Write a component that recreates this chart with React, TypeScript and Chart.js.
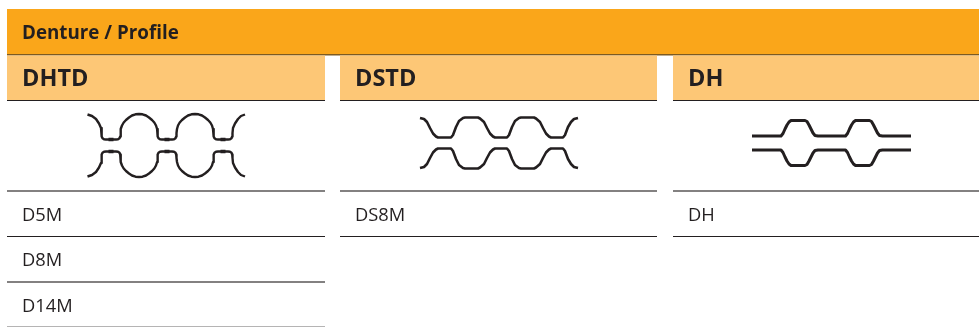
import React, { useEffect, useRef } from "react";
import { Chart, registerables } from "chart.js";

Chart.register(...registerables);

const WIDTH = 979;
const HEIGHT = 327;
const INK = "#231f20";

const title = "Denture / Profile";
const columnNames = ["DHTD", "DSTD", "DH"];
const columnStarts = [7, 340, 673];
const columnEnds = [325, 657, 979];
const columnRows = [["D5M", "D8M", "D14M"], ["DS8M"], ["DH"]];
const rowBaselineY = [221, 266, 312];
const rowRuleY = [191, 236.5, 282, 326.5];
const rowRuleColors = ["#5a5757", "#231f20", "#5a5757", "#b5b4b4"];
const rowRuleWidths = [1.3, 1, 1.3, 1];

const dhtdX = [87.5,92,96,99,101,
  101.5,101.8,102.5,104,106,108,114,116,118,119.5,120.2,
  120.5,120.9,122,123.7,126,129,132,135.5,139,142.5,146,149,152,154.3,156,157.1,
  157.5,157.8,158.5,160,162,164,170,172,174,175.5,176.2,
  176.5,177,178,179.7,182,185,188,191.5,195,198.5,202,205,208,210.3,212,213,
  213.5,213.8,214.5,216,218,220,226,228,230,231.5,232.2,
  232.5,233,235,238,241,245];
const dhtdUpperY = [114.5,116,119,123.5,128,
  133,136.5,138.3,139.3,139.5,139.5,139.5,139.5,139.3,138.3,136.5,
  133,129,125.5,122.5,120,117.5,115.5,114.3,114,114.3,115.5,117.5,120,122.5,125.5,129,
  133,136.5,138.3,139.3,139.5,139.5,139.5,139.5,139.3,138.3,136.5,
  133,129,125.5,122.5,120,117.5,115.5,114.3,114,114.3,115.5,117.5,120,122.5,125.5,129,
  133,136.5,138.3,139.3,139.5,139.5,139.5,139.5,139.3,138.3,136.5,
  133,128,123.5,119,116,114.5];
const dhtdLowerY = [176.5,175,172,167.5,163,
  158,154.5,152.7,151.7,151.5,151.5,151.5,151.5,151.7,152.7,154.5,
  158,162,165.5,168.5,171,173.5,175.5,176.7,177,176.7,175.5,173.5,171,168.5,165.5,162,
  158,154.5,152.7,151.7,151.5,151.5,151.5,151.5,151.7,152.7,154.5,
  158,162,165.5,168.5,171,173.5,175.5,176.7,177,176.7,175.5,173.5,171,168.5,165.5,162,
  158,154.5,152.7,151.7,151.5,151.5,151.5,151.5,151.7,152.7,154.5,
  158,163,167.5,172,175,176.5];

const dstdX = [420,424,427,430,433,436,438,440,449,451,453,456,459,463,465,467,474,476,478,480,484,487,490,493,495,497,505,507,509,512,515,519,521,523,530,532,534,536,540,543,546,549,551,553,561,563,565,568,571,574,578];
const dstdUpperY = [118,119,122,128,133.5,136.5,137.5,137.5,137.5,137.5,135,127,121,118,117.5,117.5,117.5,117.5,117.5,118.5,122,128,133.5,136.5,137.5,137.5,137.5,137.5,135,127,121,118,117.5,117.5,117.5,117.5,117.5,118.5,122,128,133.5,136.5,137.5,137.5,137.5,137.5,135,127,122,119,118];
const dstdLowerY = [168,167,164,158,152.5,149.5,148.5,148.5,148.5,148.5,151,159,165,168,168.5,168.5,168.5,168.5,168.5,167.5,164,158,152.5,149.5,148.5,148.5,148.5,148.5,151,159,165,168,168.5,168.5,168.5,168.5,168.5,167.5,164,158,152.5,149.5,148.5,148.5,148.5,148.5,151,159,164,167,168];

const dhX = [752,781,783,785,787,789,791,805,807,809,811,813,815,818,845.5,847.5,849.5,851.5,853.5,855.5,869.5,871.5,873.5,875.5,877.5,879.5,882.5,911];
const dhUpperY = [136,136,133.5,129,125,122,120.5,120.5,121.5,125,129,133,135.5,136,136,133.5,129,125,122,120.5,120.5,121.5,125,129,133,135.5,136,136];
const dhLowerY = [150,150,152.5,157,161,164,165.5,165.5,164.5,161,157,153,150.5,150,150,152.5,157,161,164,165.5,165.5,164.5,161,157,153,150.5,150,150];

const notchStarts = [108.5, 164.5, 220.5];
const notchEnds = [113.5, 169.5, 225.5];
const notchUpperY = 139.5;
const notchLowerY = 151.5;

const zip = (xs: number[], ys: number[]) => xs.map((x, i) => ({ x, y: ys[i] }));

const profile = (data: { x: number; y: number }[], tension: number, width = 2) => ({
  data,
  showLine: true,
  borderColor: INK,
  borderWidth: width,
  borderCapStyle: "butt" as const,
  borderJoinStyle: "round" as const,
  pointRadius: 0,
  tension,
  fill: false,
});

const notches = (y: number) =>
  notchStarts.flatMap((s, i) => [{ x: s, y }, { x: notchEnds[i], y }, { x: NaN, y: NaN }]);

const rules = (y: number, from: number, to: number, color: string, width = 1) => ({
  data: [{ x: from, y }, { x: to, y }],
  showLine: true,
  borderColor: color,
  borderWidth: width,
  pointRadius: 0,
  tension: 0,
});

const tablePlugin = {
  id: "table",
  beforeDatasetsDraw(chart: any) {
    const { ctx, scales } = chart;
    const X = (v: number) => scales.x.getPixelForValue(v);
    const Y = (v: number) => scales.y.getPixelForValue(v);
    ctx.save();
    ctx.fillStyle = "#faa61a";
    ctx.fillRect(X(7), Y(9), X(979) - X(7), Y(54) - Y(9));
    ctx.fillStyle = "#7d5a20";
    ctx.fillRect(X(7), Y(54), X(979) - X(7), 1.5);
    ctx.fillStyle = "#fdc776";
    columnStarts.forEach((s, i) => {
      ctx.fillRect(X(s), Y(55.5), X(columnEnds[i]) - X(s), Y(100) - Y(55.5));
    });
    ctx.restore();
  },
  afterDatasetsDraw(chart: any) {
    const { ctx, scales } = chart;
    const X = (v: number) => scales.x.getPixelForValue(v);
    const Y = (v: number) => scales.y.getPixelForValue(v);
    ctx.save();
    ctx.fillStyle = INK;
    ctx.textBaseline = "alphabetic";
    ctx.textAlign = "left";
    ctx.font = "bold 18.8px 'Open Sans'";
    ctx.fillText(title, X(22), Y(39));
    ctx.font = "bold 23.5px 'Open Sans'";
    columnNames.forEach((n, i) => ctx.fillText(n, X(columnStarts[i] + 15), Y(86)));
    ctx.font = "18.3px 'Open Sans'";
    columnRows.forEach((rows, c) =>
      rows.forEach((r, i) => ctx.fillText(r, X(columnStarts[c] + 15), Y(rowBaselineY[i])))
    );
    ctx.restore();
  },
};

export default function App() {
  const ref = useRef<HTMLCanvasElement>(null);
  useEffect(() => {
    const ruleSets: any[] = [];
    columnStarts.forEach((s, c) => {
      ruleSets.push(rules(100.5, s, columnEnds[c], INK));
      const count = columnRows[c].length + 1;
      rowRuleY.slice(0, count).forEach((y, i) => {
        const color = c > 0 && i === count - 1 ? INK : rowRuleColors[i];
        ruleSets.push(rules(y, s, columnEnds[c], color, rowRuleWidths[i]));
      });
    });
    const chart = new Chart(ref.current as HTMLCanvasElement, {
      type: "scatter",
      data: {
        datasets: [
          ...ruleSets,
          profile(zip(dhtdX, dhtdUpperY), 0, 2.4),
          profile(zip(dhtdX, dhtdLowerY), 0, 2.4),
          profile(zip(dstdX, dstdUpperY), 0, 2.6),
          profile(zip(dstdX, dstdLowerY), 0, 2.6),
          profile(zip(dhX, dhUpperY), 0, 3),
          profile(zip(dhX, dhLowerY), 0, 3),
          profile(notches(notchUpperY), 0, 3.4),
          profile(notches(notchLowerY), 0, 3.4),
        ],
      },
      options: {
        animation: false,
        responsive: false,
        layout: { padding: 0 },
        plugins: { legend: { display: false }, tooltip: { enabled: false } },
        scales: {
          x: { type: "linear", display: false, min: 0, max: WIDTH },
          y: { type: "linear", display: false, min: 0, max: HEIGHT, reverse: true },
        },
      },
      plugins: [tablePlugin],
    });
    return () => chart.destroy();
  }, []);
  return (
    <div style={{ position: "absolute", left: 0, top: 0, width: WIDTH, height: HEIGHT }}>
      <canvas ref={ref} width={WIDTH} height={HEIGHT} style={{ display: "block" }} />
    </div>
  );
}
